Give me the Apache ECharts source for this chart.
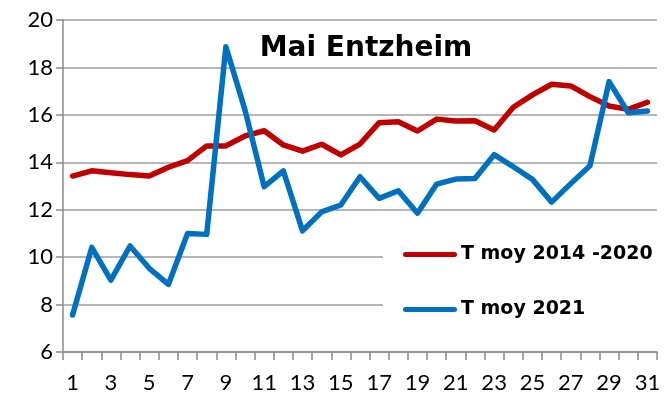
<!DOCTYPE html>
<html>
<head>
<meta charset="utf-8">
<script src="https://cdn.jsdelivr.net/npm/echarts@6/dist/echarts.min.js"></script>
<style>
  html, body { margin: 0; padding: 0; background: #fff; }
  #chart { width: 664px; height: 398px; }
</style>
</head>
<body>
<div id="chart"></div>
<script>
// Days of May
const days = Array.from({ length: 31 }, (_, i) => String(i + 1));

// Daily mean temperature (°C), average over 2014-2020
const tMoy2014_2020 = [13.42, 13.64, 13.56, 13.48, 13.42, 13.79, 14.07, 14.69, 14.69, 15.11,
  15.33, 14.73, 14.47, 14.76, 14.31, 14.77, 15.67, 15.71, 15.32, 15.82,
  15.74, 15.75, 15.36, 16.32, 16.84, 17.29, 17.22, 16.77, 16.37, 16.23, 16.53];

// Daily mean temperature (°C), 2021
const tMoy2021 = [7.56, 10.41, 9.03, 10.47, 9.53, 8.85, 11.0, 10.96, 18.87, 16.2,
  12.97, 13.64, 11.11, 11.91, 12.2, 13.39, 12.48, 12.8, 11.85, 13.08,
  13.29, 13.32, 14.32, 13.81, 13.28, 12.32, 13.1, 13.85, 17.4, 16.09, 16.16];

const seriesNames = ['T moy 2014 -2020', 'T moy 2021'];
const AXIS_FONT = 'Lato';
const BOLD_FONT = 'DejaVu Sans';

// Legend swatch: a thick line segment with rounded ends
const lineIcon = 'path://M2.5,0 H51.5 A2.5,2.5 0 0 1 51.5,5 H2.5 A2.5,2.5 0 0 1 2.5,0 Z';

const chart = echarts.init(document.getElementById('chart'), null, { renderer: 'canvas' });

chart.setOption({
  animation: false,
  backgroundColor: '#fff',
  title: {
    text: 'Mai Entzheim',
    left: 361,
    top: 30,
    textAlign: 'center',
    textStyle: { fontFamily: BOLD_FONT, fontWeight: 'bold', fontSize: 28, color: '#000' }
  },
  legend: {
    data: seriesNames.map(name => ({ name, icon: lineIcon })),
    orient: 'vertical',
    left: 383,
    top: 231,
    backgroundColor: '#fff',
    padding: [14, 6, 14, 20],
    itemWidth: 54,
    itemHeight: 5,
    itemGap: 36,
    textStyle: { fontFamily: BOLD_FONT, fontWeight: 'bold', fontSize: 19, color: '#000', padding: [0, 0, 0, -1] }
  },
  grid: { left: 63, right: 7, top: 20, bottom: 46 },
  xAxis: {
    type: 'category',
    data: days,
    boundaryGap: true,
    axisLine: { lineStyle: { color: '#8c8c8c', width: 1.5 } },
    axisTick: { show: true, interval: 0, length: 8, lineStyle: { color: '#8c8c8c', width: 1.5 } },
    axisLabel: { interval: 1, margin: 20, fontFamily: AXIS_FONT, fontSize: 22, color: '#000' },
    splitLine: { show: false }
  },
  yAxis: {
    type: 'value',
    min: 6,
    max: 20,
    interval: 2,
    axisLine: { show: true, lineStyle: { color: '#8c8c8c', width: 1.5 } },
    axisTick: { show: true, length: 7, lineStyle: { color: '#8c8c8c', width: 1.5 } },
    axisLabel: { margin: 10, fontFamily: AXIS_FONT, fontSize: 22, color: '#000' },
    splitLine: { lineStyle: { color: '#9e9e9e', width: 1.5 } }
  },
  series: [
    {
      name: seriesNames[0],
      type: 'line',
      data: tMoy2014_2020,
      symbol: 'none',
      lineStyle: { color: '#C00000', width: 5.5, join: 'round', cap: 'round' },
      itemStyle: { color: '#C00000' },
      z: 2
    },
    {
      name: seriesNames[1],
      type: 'line',
      data: tMoy2021,
      symbol: 'none',
      lineStyle: { color: '#0070C0', width: 5.5, join: 'round', cap: 'round' },
      itemStyle: { color: '#0070C0' },
      z: 3
    }
  ]
});
</script>
</body>
</html>
